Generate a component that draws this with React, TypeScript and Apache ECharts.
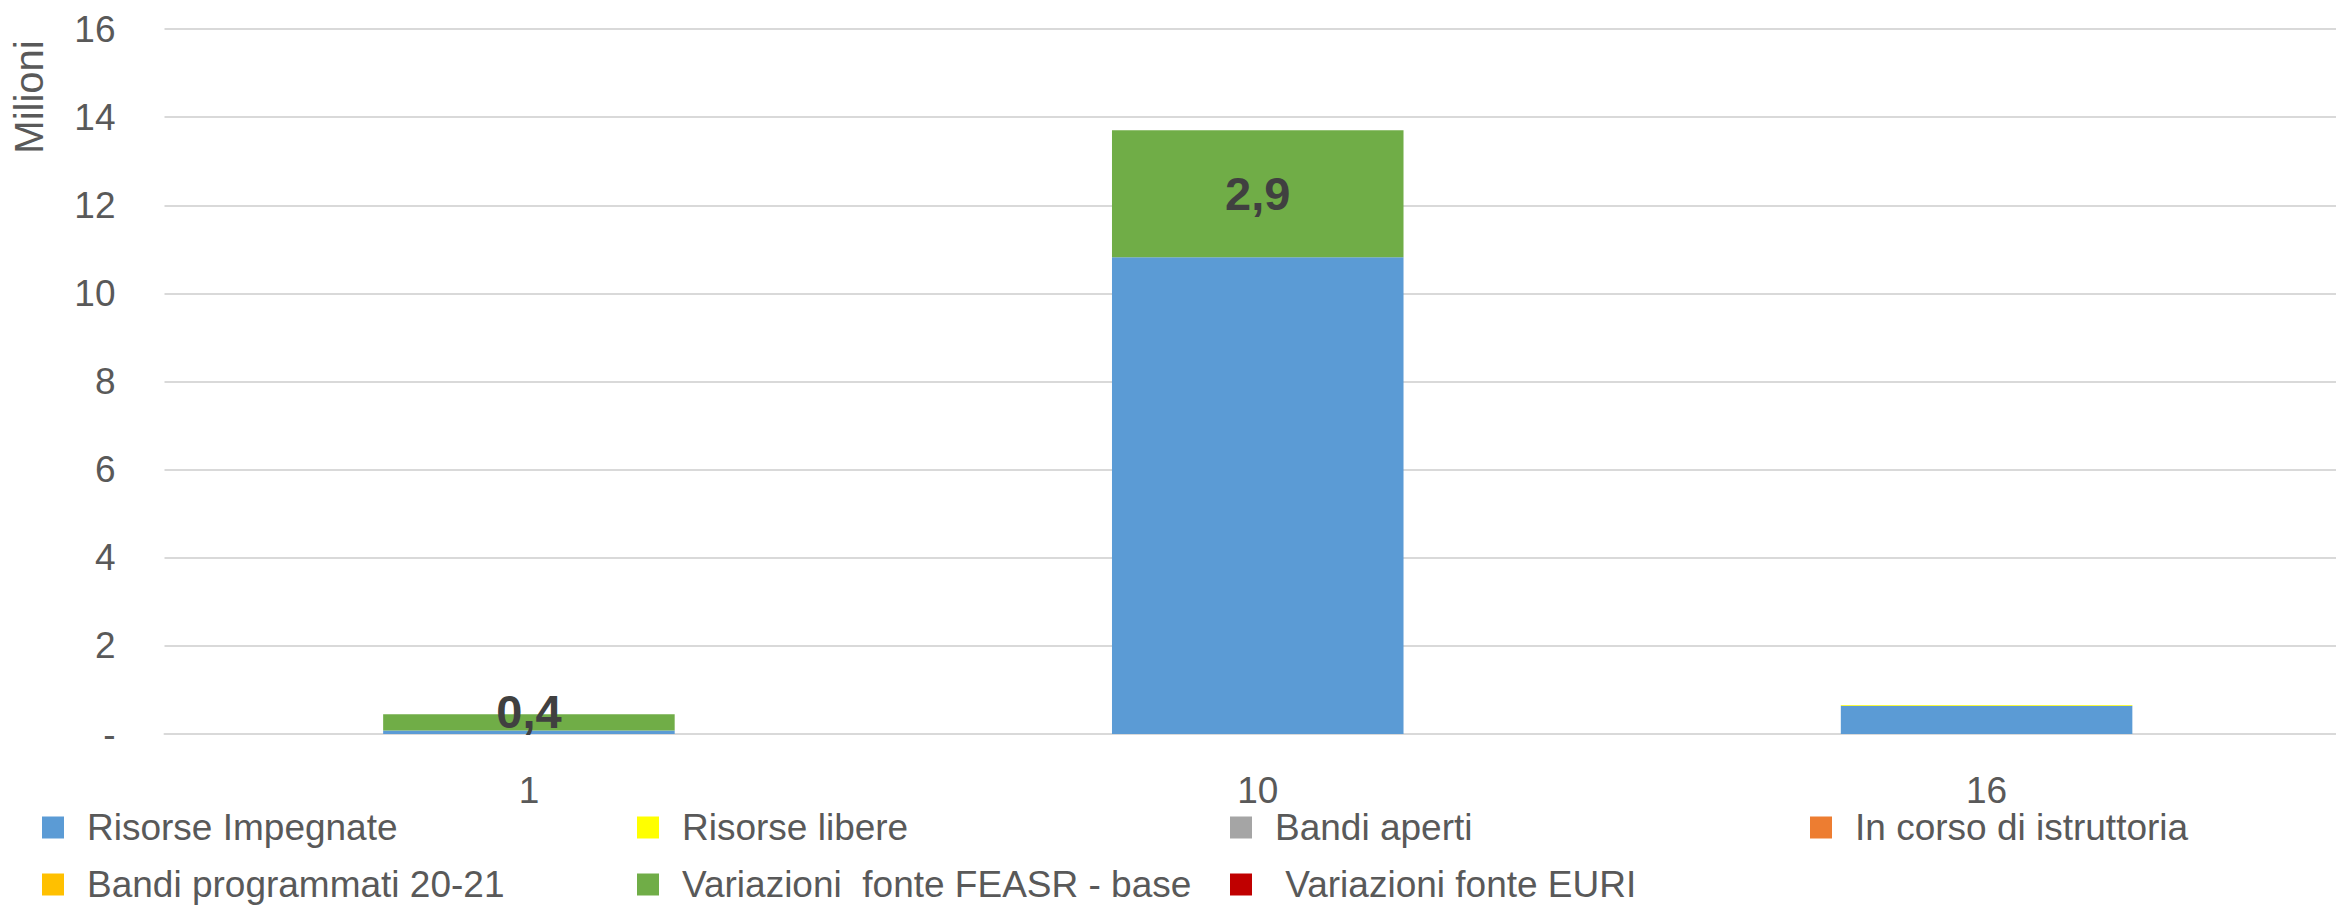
import React, { useEffect, useRef } from "react";
import * as echarts from "echarts";

const categories = ["1", "10", "16"];
const yTicks = [0, 2, 4, 6, 8, 10, 12, 14, 16];
const risorseImpegnate = [0.08, 10.82, 0.64];
const risorseLibere = [0, 0, 0.02];
const bandiAperti = [0, 0, 0];
const inCorsoIstruttoria = [0, 0, 0];
const bandiProgrammati = [0, 0, 0];
const variazioniFeasr = [0.37, 2.88, 0];
const variazioniEuri = [0, 0, 0];

const seriesDefs = [
  { name: "Risorse Impegnate", data: risorseImpegnate, color: "#5B9BD5" },
  { name: "Risorse libere", data: risorseLibere, color: "#FFFF00" },
  { name: "Bandi aperti", data: bandiAperti, color: "#A5A5A5" },
  { name: "In corso di istruttoria", data: inCorsoIstruttoria, color: "#ED7D31" },
  { name: "Bandi programmati 20-21", data: bandiProgrammati, color: "#FFC000" },
  { name: "Variazioni  fonte FEASR - base", data: variazioniFeasr, color: "#70AD47", label: true },
  { name: " Variazioni fonte EURI", data: variazioniEuri, color: "#C00000" },
];

const legendPos = [
  { left: 42, top: 809 },
  { left: 637, top: 809 },
  { left: 1230, top: 809 },
  { left: 1810, top: 809 },
  { left: 42, top: 866 },
  { left: 637, top: 866 },
  { left: 1230, top: 866 },
];

const FONT = "'Liberation Sans', Arial, sans-serif";

export default function App() {
  const ref = useRef<HTMLDivElement>(null);
  useEffect(() => {
    document.body.style.margin = "0";
    document.body.style.overflow = "hidden";
    if (!ref.current) return;
    const chart = echarts.init(ref.current, null, { renderer: "svg" });
    chart.setOption({
      animation: false,
      textStyle: { fontFamily: FONT },
      grid: { left: 164.5, right: 0, top: 29, bottom: 177, containLabel: false },
      legend: seriesDefs.map((s, i) => ({
        data: [{ name: s.name, icon: "rect" }],
        left: legendPos[i].left,
        top: legendPos[i].top,
        itemWidth: 22,
        itemHeight: 22,
        padding: 0,
        selectedMode: false,
        textStyle: {
          fontFamily: FONT,
          fontSize: 37,
          lineHeight: 37,
          color: "#595959",
          padding: [0, 0, 0, 18],
        },
      })),
      graphic: [
        {
          type: "text",
          x: 29,
          y: 97,
          rotation: Math.PI / 2,
          style: {
            text: "Milioni",
            fontFamily: FONT,
            fontSize: 40,
            fill: "#595959",
            textAlign: "center",
            textVerticalAlign: "middle",
          },
        },
      ],
      xAxis: {
        type: "category",
        data: categories,
        axisLine: { show: true, lineStyle: { color: "#D9D9D9", width: 2 } },
        axisTick: { show: false },
        axisLabel: { fontSize: 37, lineHeight: 37, color: "#595959", margin: 38, fontFamily: FONT },
      },
      yAxis: {
        type: "value",
        min: yTicks[0],
        max: yTicks[yTicks.length - 1],
        interval: 2,
        axisLine: { show: false },
        axisTick: { show: false },
        splitLine: { lineStyle: { color: "#D9D9D9", width: 2 } },
        axisLabel: {
          fontSize: 37,
          color: "#595959",
          margin: 49,
          fontFamily: FONT,
          formatter: (v: number) => (v === 0 ? "-" : String(v)),
        },
      },
      series: seriesDefs.map((s) => ({
        name: s.name,
        type: "bar",
        stack: "total",
        data: s.label
          ? s.data.map((v, i) => (i === 0 ? { value: v, label: { offset: [0, -11] } } : v))
          : s.data,
        barCategoryGap: "60%",
        itemStyle: { color: s.color },
        label: s.label
          ? {
              show: true,
              position: "inside",
              fontFamily: FONT,
              fontSize: 47,
              fontWeight: "bold",
              color: "#404040",
              formatter: (p: any) =>
                p.value > 0 ? p.value.toFixed(1).replace(".", ",") : "",
            }
          : { show: false },
      })),
    });
    return () => chart.dispose();
  }, []);
  return (
    <div
      ref={ref}
      style={{ position: "fixed", left: 0, top: 0, width: 2351, height: 911, background: "#fff" }}
    />
  );
}
